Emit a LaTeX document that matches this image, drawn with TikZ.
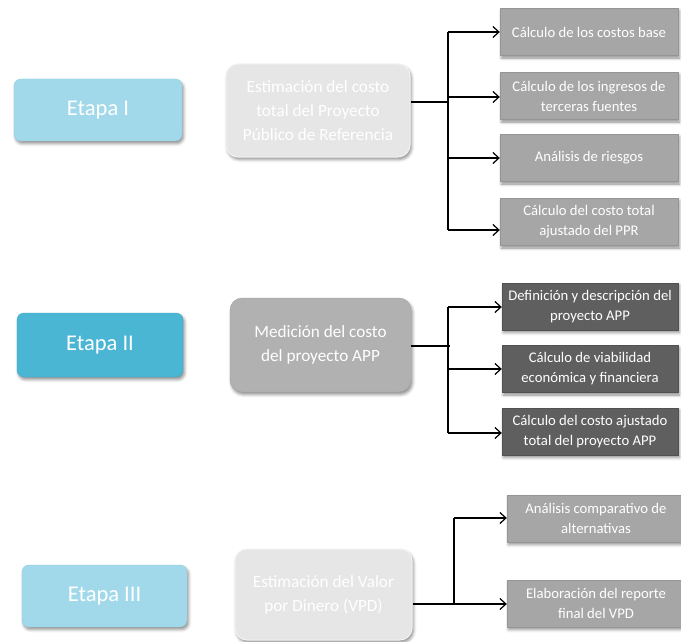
\documentclass[tikz,border=0pt]{standalone}
\usepackage{fontspec}
\setmainfont{Carlito}
\usetikzlibrary{arrows.meta,shadows.blur}

\definecolor{stagelight}{HTML}{A1D9EA}
\definecolor{stagelightline}{HTML}{8ECFE2}
\definecolor{stagedark}{HTML}{4BB5D4}
\definecolor{stagedarkline}{HTML}{43A9C7}
\definecolor{phaselight}{HTML}{E6E6E6}
\definecolor{phasemid}{HTML}{B1B1B1}
\definecolor{tasklight}{HTML}{A6A6A6}
\definecolor{taskdark}{HTML}{5F5F5F}

\tikzset{
  softshadow/.style={blur shadow={shadow xshift=1.5pt, shadow yshift=-2.5pt,
      shadow blur radius=3pt, shadow opacity=45}},
  stagebox/.style={rounded corners=7pt, text=white, inner sep=0pt,
      font=\fontsize{22.5}{26}\selectfont, softshadow},
  phasebox/.style={rounded corners=12pt, text=white, inner sep=0pt, align=center,
      font=\fontsize{17.2}{24}\selectfont, softshadow},
  taskbox/.style={text=white, inner sep=0pt, align=center,
      font=\fontsize{14.7}{20}\selectfont, softshadow},
  link/.style={line width=1.2pt, black},
  arr/.style={link, -{Straight Barb[length=6pt,width=11pt,line width=1.2pt]}},
}

\begin{document}
\begin{tikzpicture}[x=1pt,y=-1pt]
\useasboundingbox (0,0) rectangle (681,642);

% ---------- Etapa I ----------
\node[stagebox, fill=stagelight, draw=stagelightline, minimum width=168pt, minimum height=62pt]
  (s1) at (98,110) {Etapa I};
\node[phasebox, fill=phaselight, draw=white!95!black, line width=1pt, minimum width=184pt, minimum height=93pt]
  (p1) at (318,110.5) {Estimación del costo\\total del Proyecto\\Público de Referencia};

\node[taskbox, fill=tasklight, draw=tasklight!90!black, minimum width=178pt, minimum height=47pt]
  (a1) at (589,32) {Cálculo de los costos base};
\node[taskbox, fill=tasklight, draw=tasklight!90!black, minimum width=178pt, minimum height=47pt]
  (a2) at (589,96) {Cálculo de los ingresos de\\terceras fuentes};
\node[taskbox, fill=tasklight, draw=tasklight!90!black, minimum width=178pt, minimum height=47pt]
  (a3) at (589,158) {Análisis de riesgos};
\node[taskbox, fill=tasklight, draw=tasklight!90!black, minimum width=178pt, minimum height=47pt]
  (a4) at (589,222) {Cálculo del costo total\\ajustado del PPR};

\coordinate (j1) at (448,102);
\coordinate (t1a) at (448,32);
\coordinate (t1b) at (448,97);
\coordinate (t1c) at (448,158);
\coordinate (t1d) at (448,230);
\draw[link] (p1.east |- j1) -- (j1);
\draw[link] (t1a) -- (t1d);
\draw[arr] (t1a) -- (a1.west |- t1a);
\draw[arr] (t1b) -- (a2.west |- t1b);
\draw[arr] (t1c) -- (a3.west |- t1c);
\draw[arr] (t1d) -- (a4.west |- t1d);

% ---------- Etapa II ----------
\node[stagebox, fill=stagedark, draw=stagedarkline, minimum width=166pt, minimum height=64pt]
  (s2) at (100,345) {Etapa II};
\node[phasebox, fill=phasemid, draw=phasemid!92!black, minimum width=181pt, minimum height=94pt]
  (p2) at (320.5,345) {Medición del costo\\del proyecto APP};

\node[taskbox, fill=taskdark, draw=taskdark!85!black, minimum width=176pt, minimum height=47pt]
  (b1) at (590,306.5) {Definición y descripción del\\proyecto APP};
\node[taskbox, fill=taskdark, draw=taskdark!85!black, minimum width=176pt, minimum height=47pt]
  (b2) at (590,369) {Cálculo de viabilidad\\económica y financiera};
\node[taskbox, fill=taskdark, draw=taskdark!85!black, minimum width=176pt, minimum height=47pt]
  (b3) at (590,431.5) {Cálculo del costo ajustado\\total del proyecto APP};

\coordinate (j2) at (450,346);
\coordinate (t2a) at (448,307);
\coordinate (t2b) at (448,369);
\coordinate (t2c) at (448,433);
\draw[link] (p2.east |- j2) -- (j2);
\draw[link] (t2a) -- (t2c);
\draw[arr] (t2a) -- (b1.west |- t2a);
\draw[arr] (t2b) -- (b2.west |- t2b);
\draw[arr] (t2c) -- (b3.west |- t2c);

% ---------- Etapa III ----------
\node[stagebox, fill=stagelight, draw=stagelightline, minimum width=165pt, minimum height=62pt]
  (s3) at (104.5,596) {Etapa III};
\node[phasebox, fill=phaselight, draw=white!95!black, line width=1pt, minimum width=177pt, minimum height=91pt]
  (p3) at (323.5,594.5) {Estimación del Valor\\por Dinero (VPD)};

\node[taskbox, fill=tasklight, draw=tasklight!90!black, minimum width=178pt, minimum height=47pt]
  (c1) at (596,518.5) {Análisis comparativo de\\alternativas};
\node[taskbox, fill=tasklight, draw=tasklight!90!black, minimum width=178pt, minimum height=47pt]
  (c2) at (596,603.5) {Elaboración del reporte\\final del VPD};

\coordinate (j3) at (454,604);
\coordinate (t3a) at (454,518);
\draw[link] (p3.east |- j3) -- (j3);
\draw[link] (t3a) -- (j3);
\draw[arr] (t3a) -- (c1.west |- t3a);
\draw[arr] (j3) -- (c2.west |- j3);
\end{tikzpicture}
\end{document}
